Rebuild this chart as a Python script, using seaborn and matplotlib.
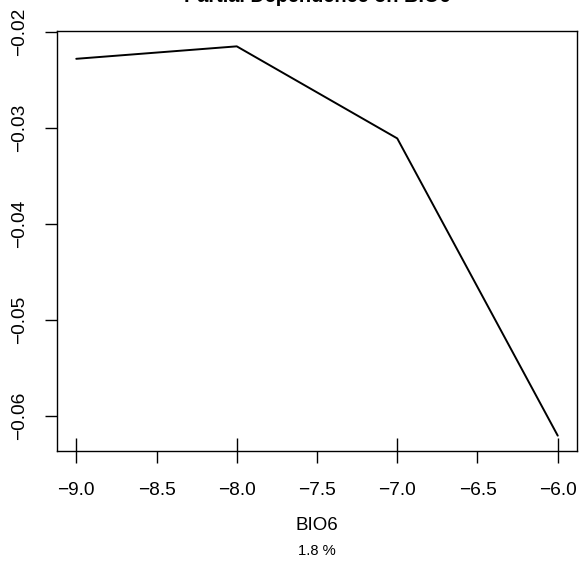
import pandas as pd
import matplotlib
matplotlib.use("Agg")
import matplotlib.pyplot as plt
import seaborn as sns

# partial dependence values
bio6 = [-9.0, -8.0, -7.0, -6.0]
dependence = [-0.0228, -0.0215, -0.0311, -0.0621]
xticks = [-9.0, -8.5, -8.0, -7.5, -7.0, -6.5, -6.0]
yticks = [-0.06, -0.05, -0.04, -0.03, -0.02]

df = pd.DataFrame({"BIO6": bio6, "pd": dependence})

sns.set_style("ticks")
plt.rcParams["font.family"] = ["Liberation Sans", "DejaVu Sans"]
plt.rcParams["text.color"] = "black"

fig = plt.figure(figsize=(5.82, 5.68), dpi=100)
ax = fig.add_axes([57 / 582, 117 / 568, 520 / 582, 420 / 568])

sns.lineplot(data=df, x="BIO6", y="pd", color="black", linewidth=1.4, ax=ax)
sns.rugplot(data=df, x="BIO6", height=0.03, color="black", linewidth=1.0, ax=ax)

ax.set_xlim(-9.12, -5.88)
ax.set_ylim(-0.0637, -0.0199)
ax.set_xticks(xticks)
ax.set_xticklabels([f"{t:.1f}".replace("-", "\u2212") for t in xticks])
ax.set_yticks(yticks)
ax.set_yticklabels([f"{t:.2f}".replace("-", "\u2212") for t in yticks],
                   rotation=90, va="center")

for s in ax.spines.values():
    s.set_color("black")
    s.set_linewidth(1.0)
ax.tick_params(axis="both", direction="out", length=8.6, width=1.0,
               color="black", labelsize=13.8, labelcolor="black")
ax.tick_params(axis="x", pad=13.5)
ax.tick_params(axis="y", pad=12)

ax.set_xlabel("")
ax.set_ylabel("")
ax.set_title("Partial Dependence on BIO6", fontsize=14.3, fontweight="bold",
             pad=21, color="black")

fig.text(317 / 582, 1 - 525 / 568, "BIO6", ha="center", va="center",
         fontsize=13.5, color="black")
fig.text(317 / 582, 1 - 551 / 568, "1.8 %", ha="center", va="center",
         fontsize=10.6, color="black")

fig.savefig("out.png", dpi=100, facecolor="white")
